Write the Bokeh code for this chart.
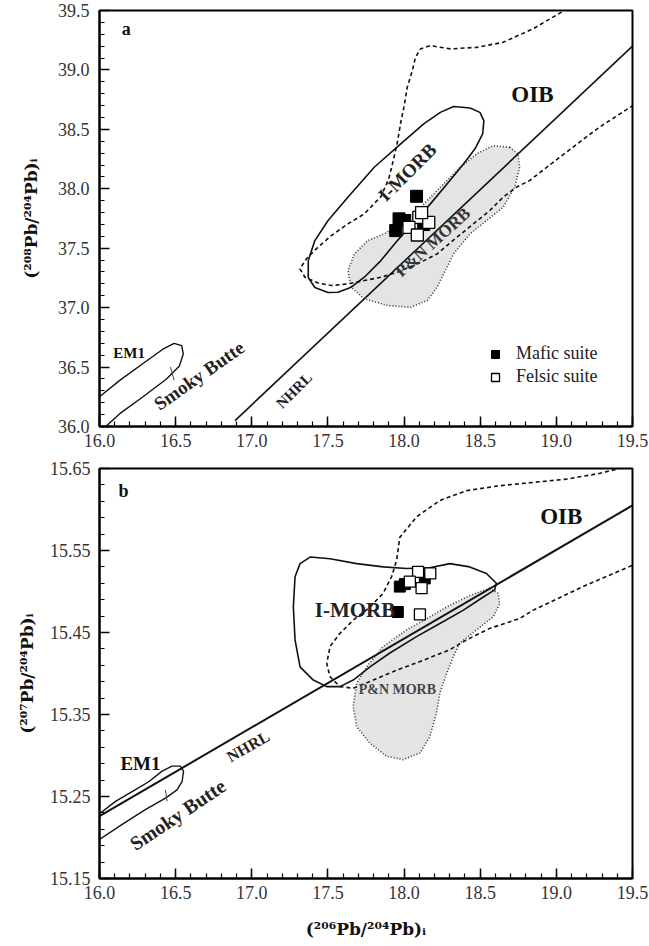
from bokeh.plotting import figure
from bokeh.models import Range1d, FixedTicker, NumeralTickFormatter, Label, Legend, LegendItem
from bokeh.layouts import column
from bokeh.embed import file_html
from bokeh.resources import INLINE

FONT = "Liberation Serif"
AXFONT = "DejaVu Serif"

# ---------------- axis ticks ----------------
x_ticks = [16.0, 16.5, 17.0, 17.5, 18.0, 18.5, 19.0, 19.5]
a_y_ticks = [36.0, 36.5, 37.0, 37.5, 38.0, 38.5, 39.0, 39.5]
b_y_ticks = [15.15, 15.25, 15.35, 15.45, 15.55, 15.65]

# ---------------- panel a: 208Pb/204Pb vs 206Pb/204Pb ----------------
a_nhrl_x = [16.89, 19.5]
a_nhrl_y = [36.05, 39.20]

a_em1_x = [15.98, 16.0, 16.135, 16.286, 16.416, 16.49, 16.54, 16.55, 16.525, 16.44, 16.286, 16.135, 16.05, 15.98]
a_em1_y = [36.23, 36.25, 36.39, 36.53, 36.65, 36.70, 36.68, 36.61, 36.51, 36.40, 36.25, 36.11, 36.01, 35.95]
a_smoky_tick_x = [16.466, 16.49]
a_smoky_tick_y = [36.50, 36.39]

a_imorb_x = [18.325, 18.433, 18.498, 18.524, 18.516, 18.466, 18.390, 18.282, 18.173, 18.064, 17.956,
             17.848, 17.739, 17.653, 17.566, 17.501, 17.414, 17.371, 17.371, 17.414, 17.501, 17.631,
             17.804, 17.978, 18.129, 18.238]
a_imorb_y = [38.692, 38.680, 38.643, 38.574, 38.462, 38.336, 38.209, 38.041, 37.873, 37.718, 37.564,
             37.396, 37.256, 37.172, 37.130, 37.127, 37.169, 37.253, 37.396, 37.564, 37.733, 37.929,
             38.181, 38.378, 38.546, 38.643]

a_pn_x = [18.694, 18.748, 18.759, 18.726, 18.650, 18.542, 18.433, 18.325, 18.271, 18.217, 18.152,
          18.043, 17.891, 17.739, 17.653, 17.631, 17.674, 17.761, 17.869, 17.978, 18.108, 18.238,
          18.368, 18.477, 18.585]
a_pn_y = [38.349, 38.294, 38.181, 38.013, 37.844, 37.733, 37.621, 37.452, 37.312, 37.172, 37.060,
          37.003, 37.018, 37.074, 37.172, 37.312, 37.452, 37.564, 37.621, 37.705, 37.844, 38.013,
          38.181, 38.294, 38.363]

a_oib_x = [19.116, 19.051, 18.845, 18.650, 18.477, 18.303, 18.173, 18.108, 18.075, 18.054, 18.021,
           17.999, 17.978, 17.958, 17.932, 17.900, 17.848, 17.739, 17.631, 17.522, 17.425, 17.360,
           17.316, 17.349, 17.436, 17.522, 17.631, 17.739, 17.848, 17.956, 18.087, 18.217, 18.347,
           18.455, 18.563, 18.650, 18.737, 18.824, 19.062, 19.279, 19.502, 19.571]
a_oib_y = [39.541, 39.499, 39.345, 39.232, 39.190, 39.177, 39.204, 39.177, 39.106, 38.994, 38.854,
           38.685, 38.557, 38.405, 38.254, 38.086, 37.934, 37.789, 37.705, 37.606, 37.497, 37.413,
           37.326, 37.256, 37.207, 37.186, 37.200, 37.228, 37.256, 37.298, 37.368, 37.452, 37.592,
           37.705, 37.817, 37.929, 38.013, 38.069, 38.304, 38.515, 38.700, 38.760]

a_mafic_x = [18.082, 17.967, 18.004, 17.945, 18.129]
a_mafic_y = [37.937, 37.747, 37.733, 37.648, 37.699]
a_felsic_x = [18.097, 18.162, 18.032, 18.087, 18.115]
a_felsic_y = [37.760, 37.718, 37.676, 37.611, 37.800]

a_label_text = ["a", "OIB", "I-MORB", "P&N MORB", "EM1", "Smoky Butte", "NHRL"]
a_label_x = [16.176, 18.843, 18.021, 18.189, 16.195, 16.654, 17.278]
a_label_y = [39.347, 38.792, 38.139, 37.550, 36.622, 36.429, 36.303]

# ---------------- panel b: 207Pb/204Pb vs 206Pb/204Pb ----------------
b_nhrl_x = [16.0, 19.5]
b_nhrl_y = [15.226, 15.605]

b_em1_x = [15.980, 16.105, 16.214, 16.323, 16.411, 16.476, 16.531, 16.552, 16.542, 16.509, 16.433,
           16.301, 16.149, 15.995, 15.941]
b_em1_y = [15.226, 15.244, 15.256, 15.268, 15.281, 15.287, 15.287, 15.281, 15.268, 15.258, 15.248,
           15.234, 15.216, 15.197, 15.191]
b_smoky_tick_x = [16.433, 16.444]
b_smoky_tick_y = [15.258, 15.244]

b_imorb_x = [17.317, 17.383, 17.514, 17.689, 17.863, 18.016, 18.169, 18.300, 18.431, 18.541, 18.606,
             18.595, 18.518, 18.387, 18.235, 18.082, 17.907, 17.776, 17.666, 17.579, 17.492, 17.404,
             17.317, 17.284, 17.273, 17.284]
b_imorb_y = [15.534, 15.542, 15.540, 15.534, 15.530, 15.528, 15.529, 15.534, 15.530, 15.522, 15.510,
             15.502, 15.493, 15.477, 15.461, 15.445, 15.425, 15.408, 15.392, 15.384, 15.384, 15.392,
             15.408, 15.441, 15.481, 15.518]

b_pn_x = [18.562, 18.617, 18.628, 18.584, 18.475, 18.366, 18.322, 18.279, 18.235, 18.213, 18.169,
          18.104, 17.994, 17.885, 17.776, 17.689, 17.666, 17.689, 17.754, 17.863, 18.016, 18.169,
          18.300, 18.431]
b_pn_y = [15.504, 15.498, 15.485, 15.469, 15.453, 15.437, 15.420, 15.400, 15.376, 15.352, 15.323,
          15.303, 15.295, 15.299, 15.315, 15.335, 15.360, 15.388, 15.408, 15.433, 15.453, 15.469,
          15.483, 15.495]

b_oib_x = [19.611, 19.501, 19.283, 19.065, 18.846, 18.628, 18.410, 18.235, 18.082, 17.972, 17.951,
           17.918, 17.863, 17.776, 17.666, 17.579, 17.514, 17.492, 17.514, 17.579, 17.666, 17.798,
           17.951, 18.125, 18.300, 18.410, 18.562, 18.759, 18.846, 19.174, 19.501, 19.611]
b_oib_y = [15.660, 15.654, 15.644, 15.637, 15.633, 15.629, 15.623, 15.611, 15.591, 15.566, 15.538,
           15.518, 15.498, 15.481, 15.465, 15.449, 15.433, 15.412, 15.396, 15.384, 15.382, 15.392,
           15.404, 15.416, 15.429, 15.441, 15.455, 15.467, 15.477, 15.506, 15.532, 15.541]

b_mafic_x = [17.972, 18.005, 17.959, 18.136]
b_mafic_y = [15.506, 15.509, 15.475, 15.516]
b_felsic_x = [18.092, 18.172, 18.038, 18.115, 18.104]
b_felsic_y = [15.524, 15.522, 15.512, 15.504, 15.472]

b_label_text = ["b", "OIB", "I-MORB", "P&N MORB", "NHRL", "EM1", "Smoky Butte"]
b_label_x = [16.157, 19.032, 17.678, 17.956, 16.976, 16.269, 16.514]
b_label_y = [15.623, 15.592, 15.477, 15.381, 15.311, 15.290, 15.228]


def minor_list(start, stop, step):
    n = int(round((stop - start) / step))
    return [round(start + i * step, 4) for i in range(n + 1)]


def make_fig(xr, yr, w, h, bl, br, bt, bb, yticks, yminor, yfmt):
    p = figure(width=w, height=h, x_range=Range1d(*xr), y_range=Range1d(*yr),
               output_backend="svg", toolbar_location=None,
               min_border_left=bl, min_border_right=br, min_border_top=bt, min_border_bottom=bb)
    p.grid.visible = False
    p.background_fill_color = "white"
    p.border_fill_color = "white"
    p.outline_line_color = "black"
    p.outline_line_width = 2
    p.xaxis.ticker = FixedTicker(ticks=x_ticks, minor_ticks=minor_list(16.0, 19.5, 0.1))
    p.yaxis.ticker = FixedTicker(ticks=yticks, minor_ticks=yminor)
    p.xaxis.formatter = NumeralTickFormatter(format="0.0")
    p.yaxis.formatter = NumeralTickFormatter(format=yfmt)
    for ax in (p.xaxis[0], p.yaxis[0]):
        ax.axis_line_width = 2
        ax.axis_line_color = "black"
        ax.major_tick_in = 10
        ax.major_tick_out = 0
        ax.minor_tick_in = 5
        ax.minor_tick_out = 0
        ax.major_tick_line_width = 1.5
        ax.minor_tick_line_width = 1.2
        ax.major_label_text_font = FONT
        ax.major_label_text_font_size = "18px"
        ax.major_label_text_color = "#333333"
        ax.axis_label_text_font = AXFONT
        ax.axis_label_text_font_style = "bold"
        ax.axis_label_text_font_size = "17px"
        ax.axis_label_text_color = "#111111"
    return p


LINE = "#111111"

# ---------------- figure a ----------------
p1 = make_fig((16.0, 19.5), (36.0, 39.5), 649, 455, 96, 17, 10, 29,
              a_y_ticks, minor_list(36.0, 39.5, 0.1), "0.0")
p1.yaxis.axis_label = "(²⁰⁸Pb/²⁰⁴Pb)ᵢ"
p1.yaxis.major_label_standoff = 10
p1.yaxis.axis_label_standoff = 14
p1.xaxis.major_label_standoff = 7

p1.patch(a_pn_x, a_pn_y, fill_color="#e4e4e4", line_color="#333333", line_dash="1 2", line_width=1.6)
p1.line(a_oib_x, a_oib_y, line_color=LINE, line_dash="4 3", line_width=1.6)
p1.line(a_nhrl_x, a_nhrl_y, line_color=LINE, line_width=1.6)
p1.patch(a_imorb_x, a_imorb_y, fill_color=None, line_color=LINE, line_width=1.6)
p1.line(a_em1_x, a_em1_y, line_color=LINE, line_width=1.4)
p1.line(a_smoky_tick_x, a_smoky_tick_y, line_color="#444444", line_width=1)
r_m = p1.scatter(a_mafic_x, a_mafic_y, marker="square", size=12, fill_color="black", line_color="black")
r_f = p1.scatter(a_felsic_x, a_felsic_y, marker="square", size=12, fill_color="white", line_color="black",
                 line_width=1.3)

a_styles = [("18px", "bold", 0, "#111111"), ("23px", "bold", 0, "#111111"), ("19px", "bold", 45, "#222222"),
            ("17px", "bold", 42, "#333333"), ("15px", "bold", 0, "#111111"), ("19px", "bold", 35, "#222222"),
            ("15px", "bold", 45, "#222222")]
for t, x, y, st in zip(a_label_text, a_label_x, a_label_y, a_styles):
    p1.add_layout(Label(x=x, y=y, text=t, angle=st[2], angle_units="deg", text_align="center",
                        text_baseline="middle", text_font=FONT, text_font_size=st[0],
                        text_font_style=st[1], text_color=st[3]))

legend = Legend(items=[LegendItem(label="Mafic suite", renderers=[r_m]),
                       LegendItem(label="Felsic suite", renderers=[r_f])],
                location=(386, 39), orientation="vertical", border_line_color=None,
                background_fill_alpha=0, padding=0, margin=0, spacing=2,
                glyph_width=20, glyph_height=20, label_standoff=11, label_height=20,
                label_text_font=FONT, label_text_font_size="18px", label_text_color="#222222")
p1.add_layout(legend)

# ---------------- figure b ----------------
p2 = make_fig((16.0, 19.5), (15.15, 15.65), 649, 486, 99, 16, 13, 62,
              b_y_ticks, minor_list(15.15, 15.65, 0.02), "0.00")
p2.yaxis.axis_label = "(²⁰⁷Pb/²⁰⁴Pb)ᵢ"
p2.xaxis.axis_label = "(²⁰⁶Pb/²⁰⁴Pb)ᵢ"
p2.yaxis.major_label_standoff = 9
p2.yaxis.axis_label_standoff = 10
p2.xaxis.major_label_standoff = 7
p2.xaxis.axis_label_standoff = 17

p2.patch(b_pn_x, b_pn_y, fill_color="#e4e4e4", line_color="#333333", line_dash="1 2", line_width=1.6)
p2.line(b_oib_x, b_oib_y, line_color=LINE, line_dash="4 3", line_width=1.6)
p2.line(b_nhrl_x, b_nhrl_y, line_color=LINE, line_width=2)
p2.patch(b_imorb_x, b_imorb_y, fill_color=None, line_color=LINE, line_width=1.6)
p2.line(b_em1_x, b_em1_y, line_color=LINE, line_width=1.4)
p2.line(b_smoky_tick_x, b_smoky_tick_y, line_color="#444444", line_width=1)
p2.scatter(b_mafic_x, b_mafic_y, marker="square", size=11, fill_color="black", line_color="black")
p2.scatter(b_felsic_x, b_felsic_y, marker="square", size=11, fill_color="white", line_color="black",
           line_width=1.3)

b_styles = [("18px", "bold", 0, "#111111"), ("23px", "bold", 0, "#111111"), ("21px", "bold", 0, "#222222"),
            ("14px", "bold", 0, "#444444"), ("16px", "bold", 30, "#222222"), ("19px", "bold", 0, "#111111"),
            ("20px", "bold", 34, "#222222")]
for t, x, y, st in zip(b_label_text, b_label_x, b_label_y, b_styles):
    p2.add_layout(Label(x=x, y=y, text=t, angle=st[2], angle_units="deg", text_align="center",
                        text_baseline="middle", text_font=FONT, text_font_size=st[0],
                        text_font_style=st[1], text_color=st[3]))

layout = column(p1, p2, spacing=0)
open("out.html", "w").write(file_html(layout, INLINE))
